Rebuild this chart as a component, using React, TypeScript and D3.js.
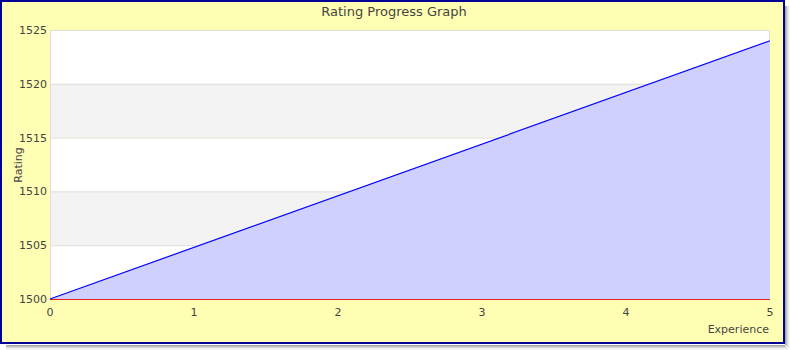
import React from "react";
import * as d3 from "d3";

const title = "Rating Progress Graph";
const experience = [0, 5];
const rating = [1500, 1524];
const yTicks = [1500, 1505, 1510, 1515, 1520, 1525];
const xTicks = [0, 1, 2, 3, 4, 5];

export default function App() {
  const W = 790, H = 350;
  const left = 50, right = 770, top = 30, bottom = 299;
  const x = d3.scaleLinear().domain([0, 5]).range([left, right]);
  const y = d3.scaleLinear().domain([1500, 1525]).range([bottom, top]);
  const pts = experience.map((e, i) => [e, rating[i]] as [number, number]);
  const area = d3.area<[number, number]>().x(d => x(d[0])).y0(y(1500)).y1(d => y(d[1]))(pts) || "";
  const line = d3.line<[number, number]>().x(d => x(d[0])).y(d => y(d[1]))(pts) || "";
  const font = "DejaVu Sans, Verdana, sans-serif";
  const txt = "#444";
  const bands = yTicks.slice(0, -1).map((v, i) => ({ lo: v, hi: yTicks[i + 1], i }));
  return (
    <div style={{ position: "fixed", left: 0, top: 0 }}>
      <svg width={W} height={H} style={{ display: "block" }}>
        {/* shadow */}
        {[0.35, 0.25, 0.15, 0.08, 0.04].map((o, i) => (
          <g key={i}>
            <rect x={785 + i} y={6} width={1} height={339 + i} fill="#000" opacity={o} />
            <rect x={6} y={345 + i} width={779 + i} height={1} fill="#000" opacity={o} />
          </g>
        ))}
        <rect x={1} y={1} width={783} height={342} fill="#ffffb3" stroke="#000099" strokeWidth={2} />
        {bands.map(b => (
          <rect key={b.i} x={left} y={y(b.hi)} width={right - left} height={y(b.lo) - y(b.hi)}
            fill={b.i % 2 === 1 ? "#f3f3f3" : "#ffffff"} />
        ))}
        {yTicks.map(t => (
          <line key={t} x1={left} x2={right} y1={y(t) + 0.5} y2={y(t) + 0.5} stroke="#dddddd" strokeWidth={1} />
        ))}
        <rect x={left + 0.5} y={top + 0.5} width={right - left - 1} height={bottom - top} fill="none" stroke="#dddddd" />
        <path d={area} fill="#d0d0ff" />
        <line x1={left} x2={right} y1={bottom + 0.5} y2={bottom + 0.5} stroke="#ee2222" strokeWidth={1} />
        <path d={line} fill="none" stroke="#0000ff" strokeWidth={1.2} />
        {yTicks.map(t => (
          <text key={t} x={47} y={y(t) + 4} textAnchor="end" fontFamily={font} fontSize={11} fill={txt}>{t}</text>
        ))}
        {xTicks.map(t => (
          <text key={t} x={x(t)} y={316} textAnchor="middle" fontFamily={font} fontSize={11} fill={txt}>{t}</text>
        ))}
        <text x={769} y={333} textAnchor="end" fontFamily={font} fontSize={11} fill={txt}>Experience</text>
        <text transform={`translate(22,165) rotate(-90)`} textAnchor="middle" fontFamily={font} fontSize={11} fill={txt}>Rating</text>
        <text x={394} y={16} textAnchor="middle" fontFamily={font} fontSize={13} fill={txt}>{title}</text>
      </svg>
    </div>
  );
}
